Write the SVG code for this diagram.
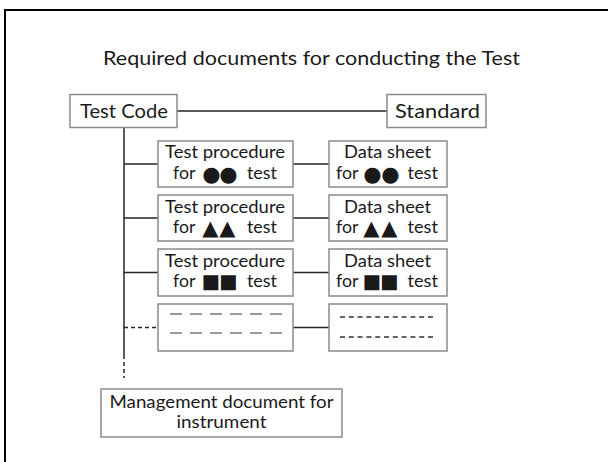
<svg xmlns="http://www.w3.org/2000/svg" width="608" height="462" viewBox="0 0 608 462">
  <style>
    .box { fill: #ffffff; stroke: #8a8a8a; stroke-width: 1.5; }
    .txt { font-family: Lato, "Noto Sans", "DejaVu Sans", sans-serif; fill: #1a1a1a; }
    .big { font-size: 19px; }
    .small { font-size: 17px; }
    .sym { font-family: "DejaVu Sans", sans-serif; font-size: 21px; }
    .sq { font-size: 19.5px; }
    .link { fill: none; stroke: #262626; stroke-width: 1.5; }
    .dash { stroke-dasharray: 4 3; }
    .ph-long { fill: none; stroke: #9a9a9a; stroke-width: 2; stroke-dasharray: 12 8; }
    .ph-short { fill: none; stroke: #333333; stroke-width: 1.5; stroke-dasharray: 5 3.8; }
  </style>

  <!-- page frame -->
  <path d="M5 462 V10 H608" fill="none" stroke="#000000" stroke-width="2"/>

  <!-- heading -->
  <text class="txt big" x="311.5" y="65" text-anchor="middle" textLength="417" lengthAdjust="spacingAndGlyphs">Required documents for conducting the Test</text>

  <!-- connectors -->
  <g id="connectors">
    <path class="link" d="M177 111 H387"/>
    <path class="link" d="M124 127.5 V355"/>
    <path class="link dash" d="M124 355 V378"/>
    <path class="link" d="M124 164 H158 M124 218 H158 M124 272.5 H158"/>
    <path class="link dash" d="M124 327.5 H158"/>
    <path class="link" d="M293 164 H329 M293 218 H329 M293 272.5 H329 M293 327.5 H329"/>
  </g>

  <g id="test-code">
    <rect class="box" x="70" y="94.5" width="107" height="33"/>
    <text class="txt big" x="124" y="118" text-anchor="middle" textLength="88" lengthAdjust="spacingAndGlyphs">Test Code</text>
  </g>

  <g id="standard">
    <rect class="box" x="387" y="94.5" width="99" height="33"/>
    <text class="txt big" x="437.5" y="118" text-anchor="middle" textLength="85" lengthAdjust="spacingAndGlyphs">Standard</text>
  </g>

  <!-- row 1: circles -->
  <g id="procedure-circle">
    <rect class="box" x="158" y="141" width="135" height="46"/>
    <text class="txt small"><tspan x="225" y="158" text-anchor="middle" textLength="120" lengthAdjust="spacingAndGlyphs">Test procedure</tspan><tspan x="173" y="179" textLength="22" lengthAdjust="spacingAndGlyphs">for</tspan> <tspan class="sym" x="202.3 219.3" y="181">●●</tspan> <tspan x="247" y="179" textLength="30" lengthAdjust="spacingAndGlyphs">test</tspan></text>
  </g>
  <g id="datasheet-circle">
    <rect class="box" x="329" y="141" width="118" height="46"/>
    <text class="txt small"><tspan x="387.5" y="158" text-anchor="middle" textLength="87" lengthAdjust="spacingAndGlyphs">Data sheet</tspan><tspan x="336" y="179" textLength="22" lengthAdjust="spacingAndGlyphs">for</tspan> <tspan class="sym" x="363.3 381.3" y="181">●●</tspan> <tspan x="407.5" y="179" textLength="30.5" lengthAdjust="spacingAndGlyphs">test</tspan></text>
  </g>

  <!-- row 2: triangles -->
  <g id="procedure-triangle">
    <rect class="box" x="158" y="195" width="135" height="46"/>
    <text class="txt small"><tspan x="225" y="212.5" text-anchor="middle" textLength="120" lengthAdjust="spacingAndGlyphs">Test procedure</tspan><tspan x="173" y="233" textLength="22" lengthAdjust="spacingAndGlyphs">for</tspan> <tspan class="sym" x="202.3 219.3" y="235">▲▲</tspan> <tspan x="247" y="233" textLength="30" lengthAdjust="spacingAndGlyphs">test</tspan></text>
  </g>
  <g id="datasheet-triangle">
    <rect class="box" x="329" y="195" width="118" height="46"/>
    <text class="txt small"><tspan x="387.5" y="212.5" text-anchor="middle" textLength="87" lengthAdjust="spacingAndGlyphs">Data sheet</tspan><tspan x="336" y="233" textLength="22" lengthAdjust="spacingAndGlyphs">for</tspan> <tspan class="sym" x="363.3 381.3" y="235">▲▲</tspan> <tspan x="407.5" y="233" textLength="30.5" lengthAdjust="spacingAndGlyphs">test</tspan></text>
  </g>

  <!-- row 3: squares -->
  <g id="procedure-square">
    <rect class="box" x="158" y="249" width="135" height="47"/>
    <text class="txt small"><tspan x="225" y="267" text-anchor="middle" textLength="120" lengthAdjust="spacingAndGlyphs">Test procedure</tspan><tspan x="173" y="287" textLength="22" lengthAdjust="spacingAndGlyphs">for</tspan> <tspan class="sym sq" x="201.5 219" y="288">■■</tspan> <tspan x="247" y="287" textLength="30" lengthAdjust="spacingAndGlyphs">test</tspan></text>
  </g>
  <g id="datasheet-square">
    <rect class="box" x="329" y="249" width="118" height="47"/>
    <text class="txt small"><tspan x="387.5" y="267" text-anchor="middle" textLength="87" lengthAdjust="spacingAndGlyphs">Data sheet</tspan><tspan x="336" y="287" textLength="22" lengthAdjust="spacingAndGlyphs">for</tspan> <tspan class="sym sq" x="362.5 380" y="288">■■</tspan> <tspan x="407.5" y="287" textLength="30.5" lengthAdjust="spacingAndGlyphs">test</tspan></text>
  </g>

  <!-- row 4: placeholders -->
  <g id="procedure-placeholder">
    <rect class="box" x="158" y="304" width="135" height="47"/>
    <path class="ph-long" d="M170 314 H282 M170 333 H282"/>
  </g>
  <g id="datasheet-placeholder">
    <rect class="box" x="329" y="304" width="118" height="47"/>
    <path class="ph-short" d="M340 317 H433 M340 337 H433"/>
  </g>

  <g id="management-document">
    <rect class="box" x="101" y="389" width="241" height="48"/>
    <text class="txt small"><tspan x="221.5" y="408" text-anchor="middle" textLength="224" lengthAdjust="spacingAndGlyphs">Management document for</tspan><tspan x="221.5" y="428" text-anchor="middle" textLength="90" lengthAdjust="spacingAndGlyphs">instrument</tspan></text>
  </g>
</svg>
